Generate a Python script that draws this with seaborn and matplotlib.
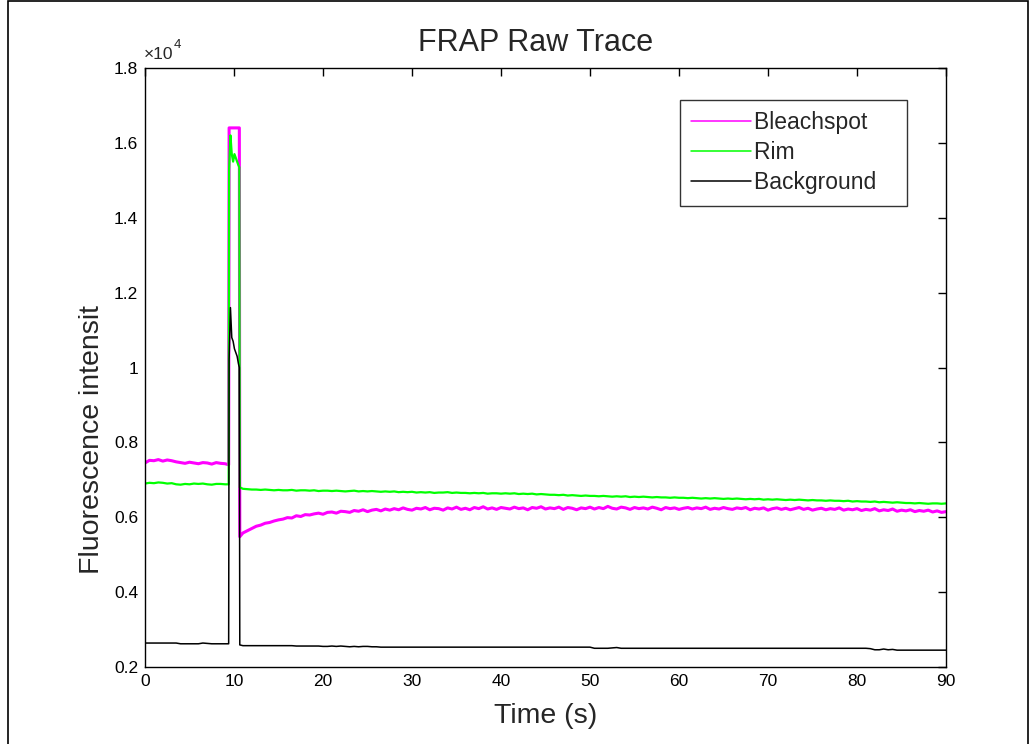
import numpy as np
import pandas as pd
import matplotlib
matplotlib.use("Agg")
import matplotlib.pyplot as plt
import seaborn as sns
from matplotlib.ticker import FuncFormatter
from matplotlib.patches import Rectangle

# ---------------- data (raw counts) ----------------
series_names = ["Bleachspot", "Rim", "Background"]
series_colors = ["#FF00FF", "#00FF00", "#000000"]

t_pre = [0.0, 0.5, 1.0, 1.5, 2.0, 2.5, 3.0, 3.5, 4.0, 4.5, 5.0, 5.5, 6.0, 6.5,
         7.0, 7.5, 8.0, 8.5, 9.0, 9.4]
t_spike = [9.45, 9.6, 9.75, 9.9, 10.05, 10.2, 10.35, 10.5, 10.6]
t_post = [10.65] + list(np.arange(11.0, 90.01, 0.5))

bleach_pre = [7450, 7520, 7510, 7540, 7500, 7530, 7510, 7480, 7460, 7440,
              7470, 7450, 7430, 7460, 7450, 7420, 7460, 7440, 7430, 7400]
rim_pre = [6900, 6920, 6910, 6930, 6920, 6900, 6910, 6880, 6870, 6890,
           6880, 6900, 6890, 6900, 6880, 6870, 6890, 6890, 6880, 6880]
bg_pre = [2640, 2640, 2640, 2640, 2640, 2640, 2640, 2640, 2620, 2620,
          2620, 2620, 2620, 2640, 2630, 2620, 2620, 2620, 2620, 2620]

bleach_spike = [16400, 16400, 16400, 16400, 16400, 16400, 16400, 16400, 16400]
rim_spike = [15300, 16200, 15700, 15500, 15700, 15600, 15500, 15400, 15350]
bg_spike = [10200, 11600, 10800, 10700, 10500, 10400, 10300, 10100, 10000]

bleach_post = [5480,
    5580, 5640, 5700, 5760, 5790, 5840, 5860, 5900, 5930, 5950,
    5990, 5980, 6040, 6020, 6070, 6060, 6090, 6110, 6080, 6130,
    6140, 6110, 6160, 6150, 6130, 6180, 6160, 6200, 6150, 6190,
    6210, 6170, 6220, 6190, 6230, 6200, 6250, 6210, 6190, 6240,
    6220, 6260, 6200, 6240, 6230, 6190, 6250, 6220, 6270, 6210,
    6240, 6200, 6260, 6230, 6280, 6220, 6250, 6210, 6260, 6240,
    6220, 6270, 6230, 6250, 6200, 6260, 6240, 6280, 6220, 6250,
    6230, 6270, 6210, 6260, 6240, 6200, 6250, 6230, 6270, 6220,
    6260, 6230, 6290, 6240, 6220, 6270, 6250, 6210, 6260, 6230,
    6250, 6220, 6270, 6240, 6200, 6260, 6230, 6250, 6210, 6240,
    6260, 6220, 6250, 6230, 6270, 6210, 6240, 6220, 6260, 6230,
    6210, 6250, 6230, 6260, 6200, 6240, 6220, 6250, 6190, 6230,
    6250, 6210, 6240, 6200, 6230, 6260, 6210, 6240, 6190, 6220,
    6240, 6200, 6230, 6210, 6250, 6190, 6220, 6200, 6230, 6180,
    6210, 6190, 6230, 6170, 6200, 6180, 6220, 6160, 6190, 6170,
    6200, 6150, 6180, 6160, 6190, 6140, 6170, 6130, 6150]
rim_post = [6800,
    6760, 6750, 6740, 6740, 6730, 6740, 6730, 6720, 6730, 6720,
    6720, 6730, 6710, 6720, 6720, 6710, 6720, 6700, 6710, 6710,
    6700, 6710, 6700, 6690, 6700, 6710, 6690, 6700, 6690, 6700,
    6690, 6680, 6690, 6680, 6690, 6670, 6680, 6670, 6680, 6660,
    6670, 6660, 6670, 6650, 6660, 6660, 6670, 6650, 6660, 6650,
    6650, 6640, 6650, 6640, 6650, 6630, 6640, 6640, 6630, 6640,
    6630, 6640, 6620, 6630, 6620, 6630, 6610, 6620, 6610, 6600,
    6600, 6590, 6600, 6580, 6590, 6580, 6570, 6580, 6570, 6570,
    6560, 6570, 6560, 6550, 6560, 6550, 6560, 6540, 6550, 6540,
    6550, 6540, 6530, 6540, 6530, 6530, 6520, 6530, 6520, 6520,
    6510, 6520, 6510, 6500, 6510, 6500, 6510, 6500, 6490, 6500,
    6490, 6500, 6490, 6480, 6490, 6480, 6490, 6470, 6480, 6470,
    6480, 6470, 6460, 6470, 6460, 6470, 6460, 6450, 6460, 6450,
    6450, 6440, 6450, 6440, 6440, 6430, 6440, 6420, 6430, 6420,
    6420, 6410, 6420, 6400, 6410, 6400, 6390, 6400, 6390, 6380,
    6380, 6370, 6380, 6370, 6360, 6370, 6370, 6360, 6370]
bg_post = ([2590]
    + [2570] * 10
    + [2570, 2570, 2560, 2560, 2560, 2560, 2560, 2560, 2550, 2550]
    + [2560, 2550, 2560, 2550, 2540, 2550, 2540, 2550, 2550, 2540]
    + [2540] + [2530] * 9
    + [2530] * 30
    + [2530] * 9 + [2500]
    + [2500, 2500, 2500, 2510, 2520, 2500, 2500, 2500, 2500, 2500]
    + [2500] * 50
    + [2500, 2490, 2460, 2460, 2480, 2460, 2470, 2450, 2450, 2450]
    + [2450] * 9)

x_ticks = [0, 10, 20, 30, 40, 50, 60, 70, 80, 90]
y_ticks = [2000, 4000, 6000, 8000, 10000, 12000, 14000, 16000, 18000]

# ---------------- build long table ----------------
time_all = t_pre + t_spike + t_post
values = {
    "Bleachspot": bleach_pre + bleach_spike + bleach_post,
    "Rim": rim_pre + rim_spike + rim_post,
    "Background": bg_pre + bg_spike + bg_post,
}
frames = []
for name in series_names:
    frames.append(pd.DataFrame({"Time": time_all, "Intensity": values[name],
                                "Series": name}))
df = pd.concat(frames, ignore_index=True)

# ---------------- plot ----------------
sns.set_style("white")
plt.rcParams["font.family"] = ["Liberation Sans", "DejaVu Sans"]

fig = plt.figure(figsize=(10.31, 7.44), dpi=100)
ax = fig.add_axes([145 / 1031, 1 - 667 / 744, 801 / 1031, 599 / 744])

sns.lineplot(data=df, x="Time", y="Intensity", hue="Series",
             hue_order=series_names, palette=dict(zip(series_names, series_colors)),
             estimator=None, sort=False, linewidth=1.2, ax=ax)
# thicker noisy bands like the reference
line_widths = [2.2, 1.6, 1.1]
for ln, lw in zip(ax.get_lines()[:3], line_widths):
    ln.set_linewidth(lw)

ax.set_xlim(0, 90)
ax.set_ylim(2000, 18000)
ax.set_xticks(x_ticks)
ax.set_yticks(y_ticks)
ax.yaxis.set_major_formatter(FuncFormatter(lambda v, p: f"{v / 1e4:g}"))
ax.tick_params(direction="in", length=6, width=1, top=True, right=True,
               labelsize=12.5, pad=5, colors="black")
for s in ax.spines.values():
    s.set_visible(True)
    s.set_color("black")
    s.set_linewidth(1.0)

ax.set_title("FRAP Raw Trace", fontsize=22, x=0.488, pad=12)
ax.set_xlabel("Time (s)", fontsize=20.5, labelpad=10)
ax.set_ylabel("Fluorescence intensit", fontsize=20.5)
ax.yaxis.set_label_coords(-0.050, 0.379)
ax.text(-0.002, 1.01, "×10", transform=ax.transAxes, fontsize=12.5,
        ha="left", va="bottom")
ax.text(0.036, 1.028, "4", transform=ax.transAxes, fontsize=9.5,
        ha="left", va="bottom")

h_list, l_list = ax.get_legend_handles_labels()
leg = ax.legend(h_list, [l + "   " for l in l_list],
                loc="upper right", bbox_to_anchor=(762 / 801, 567 / 599),
                borderaxespad=0, frameon=True, fancybox=False, shadow=False,
                fontsize=16.5, handlelength=2.6, handletextpad=0.15,
                labelspacing=0.3, borderpad=0.5)
leg.get_frame().set_edgecolor("black")
leg.get_frame().set_linewidth(1.0)
for h in leg.get_lines():
    h.set_linewidth(1.1)

fig.patches.append(Rectangle((8 / 1031, -0.01), 1020 / 1031, 1.008,
                             transform=fig.transFigure, fill=False,
                             edgecolor="black", linewidth=1.2))

fig.savefig("out.png", dpi=100, facecolor="white")
